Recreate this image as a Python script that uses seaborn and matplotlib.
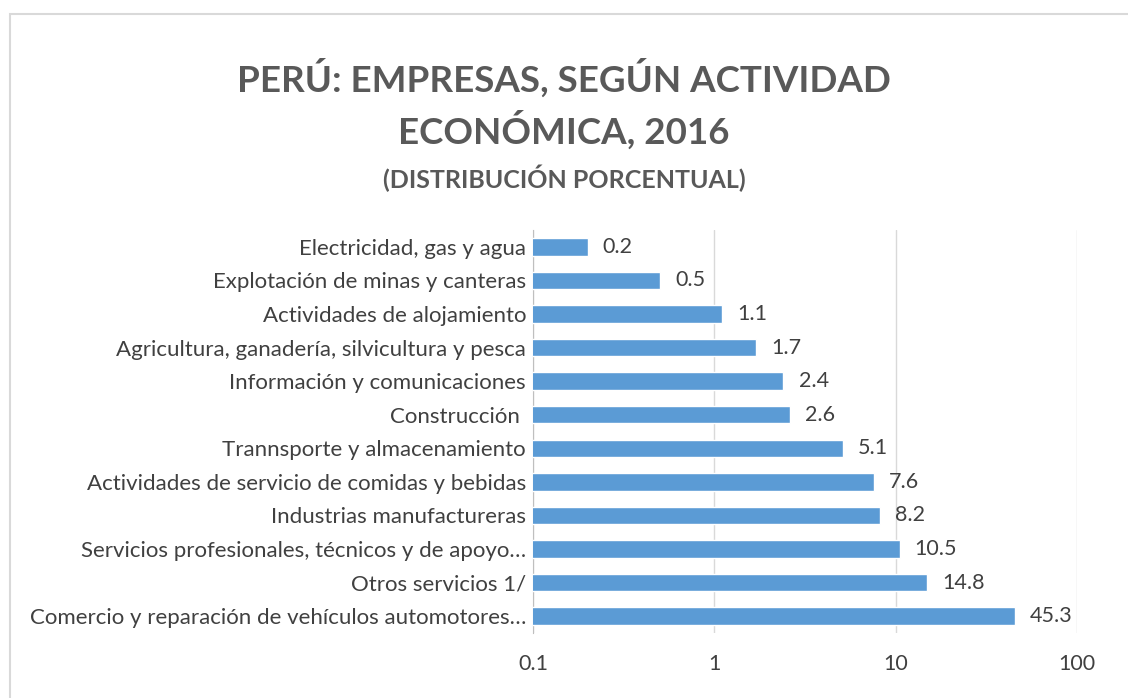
import matplotlib
matplotlib.use("Agg")
import matplotlib.pyplot as plt
import matplotlib.patches as mpatches
import seaborn as sns
import pandas as pd

# data (percent of companies)
actividades = [
    "Electricidad, gas y agua",
    "Explotación de minas y canteras",
    "Actividades de alojamiento",
    "Agricultura, ganadería, silvicultura y pesca",
    "Información y comunicaciones",
    "Construcción ",
    "Trannsporte y almacenamiento",
    "Actividades de servicio de comidas y bebidas",
    "Industrias manufactureras",
    "Servicios profesionales, técnicos y de apoyo…",
    "Otros servicios 1/",
    "Comercio y reparación de vehículos automotores…",
]
porcentajes = [0.2, 0.5, 1.1, 1.7, 2.4, 2.6, 5.1, 7.6, 8.2, 10.5, 14.8, 45.3]
tick_vals = [0.1, 1, 10, 100]
tick_labels = ["0.1", "1", "10", "100"]

df = pd.DataFrame({"actividad": actividades, "pct": porcentajes})

sns.set_style("white")
plt.rcParams["font.family"] = ["Lato", "DejaVu Sans"]

fig = plt.figure(figsize=(11.28, 6.98), dpi=100)
# outer chart border like the spreadsheet frame
fig.patches.append(mpatches.Rectangle((10 / 1128, -0.01), 1.2, 1 - 14 / 698 + 0.01,
                                      transform=fig.transFigure, fill=False,
                                      edgecolor="#d9d9d9", linewidth=1.5))

ax = fig.add_axes([533 / 1128, 1 - 633 / 698, (1077 - 533) / 1128, (633 - 230) / 698])
sns.barplot(data=df, y="actividad", x="pct", color="#5b9bd5", width=0.52,
            saturation=1, orient="h", ax=ax, zorder=3)
ax.set_xscale("log")
ax.set_xlim(0.1, 100)
ax.set_ylim(11.5, -0.5)
ax.set_xticks(tick_vals)
ax.set_xticklabels(tick_labels)
ax.minorticks_off()
ax.xaxis.grid(True, color="#d9d9d9", linewidth=1, zorder=0)
ax.set_xlabel("")
ax.set_ylabel("")
for s in ["top", "right", "bottom"]:
    ax.spines[s].set_visible(False)
ax.spines["left"].set_color("#bfbfbf")
ax.tick_params(axis="both", length=0, labelsize=15.5, labelcolor="#404040")
ax.tick_params(axis="y", labelsize=16, pad=5)
ax.tick_params(axis="x", pad=15)

for i, v in enumerate(porcentajes):
    ax.annotate(f"{v}", (v, i), xytext=(11, 0), textcoords="offset points",
                va="center", ha="left", fontsize=15.5, color="#404040")

fig.text(0.5, 1 - 78 / 698, "PERÚ: EMPRESAS, SEGÚN ACTIVIDAD", ha="center", va="center",
         fontsize=26.5, fontweight="bold", color="#595959")
fig.text(0.5, 1 - 130 / 698, "ECONÓMICA, 2016", ha="center", va="center",
         fontsize=26.5, fontweight="bold", color="#595959")
fig.text(0.5, 1 - 178 / 698, "(DISTRIBUCIÓN PORCENTUAL)", ha="center", va="center",
         fontsize=18, fontweight="bold", color="#595959")

fig.savefig("out.png", dpi=100)
